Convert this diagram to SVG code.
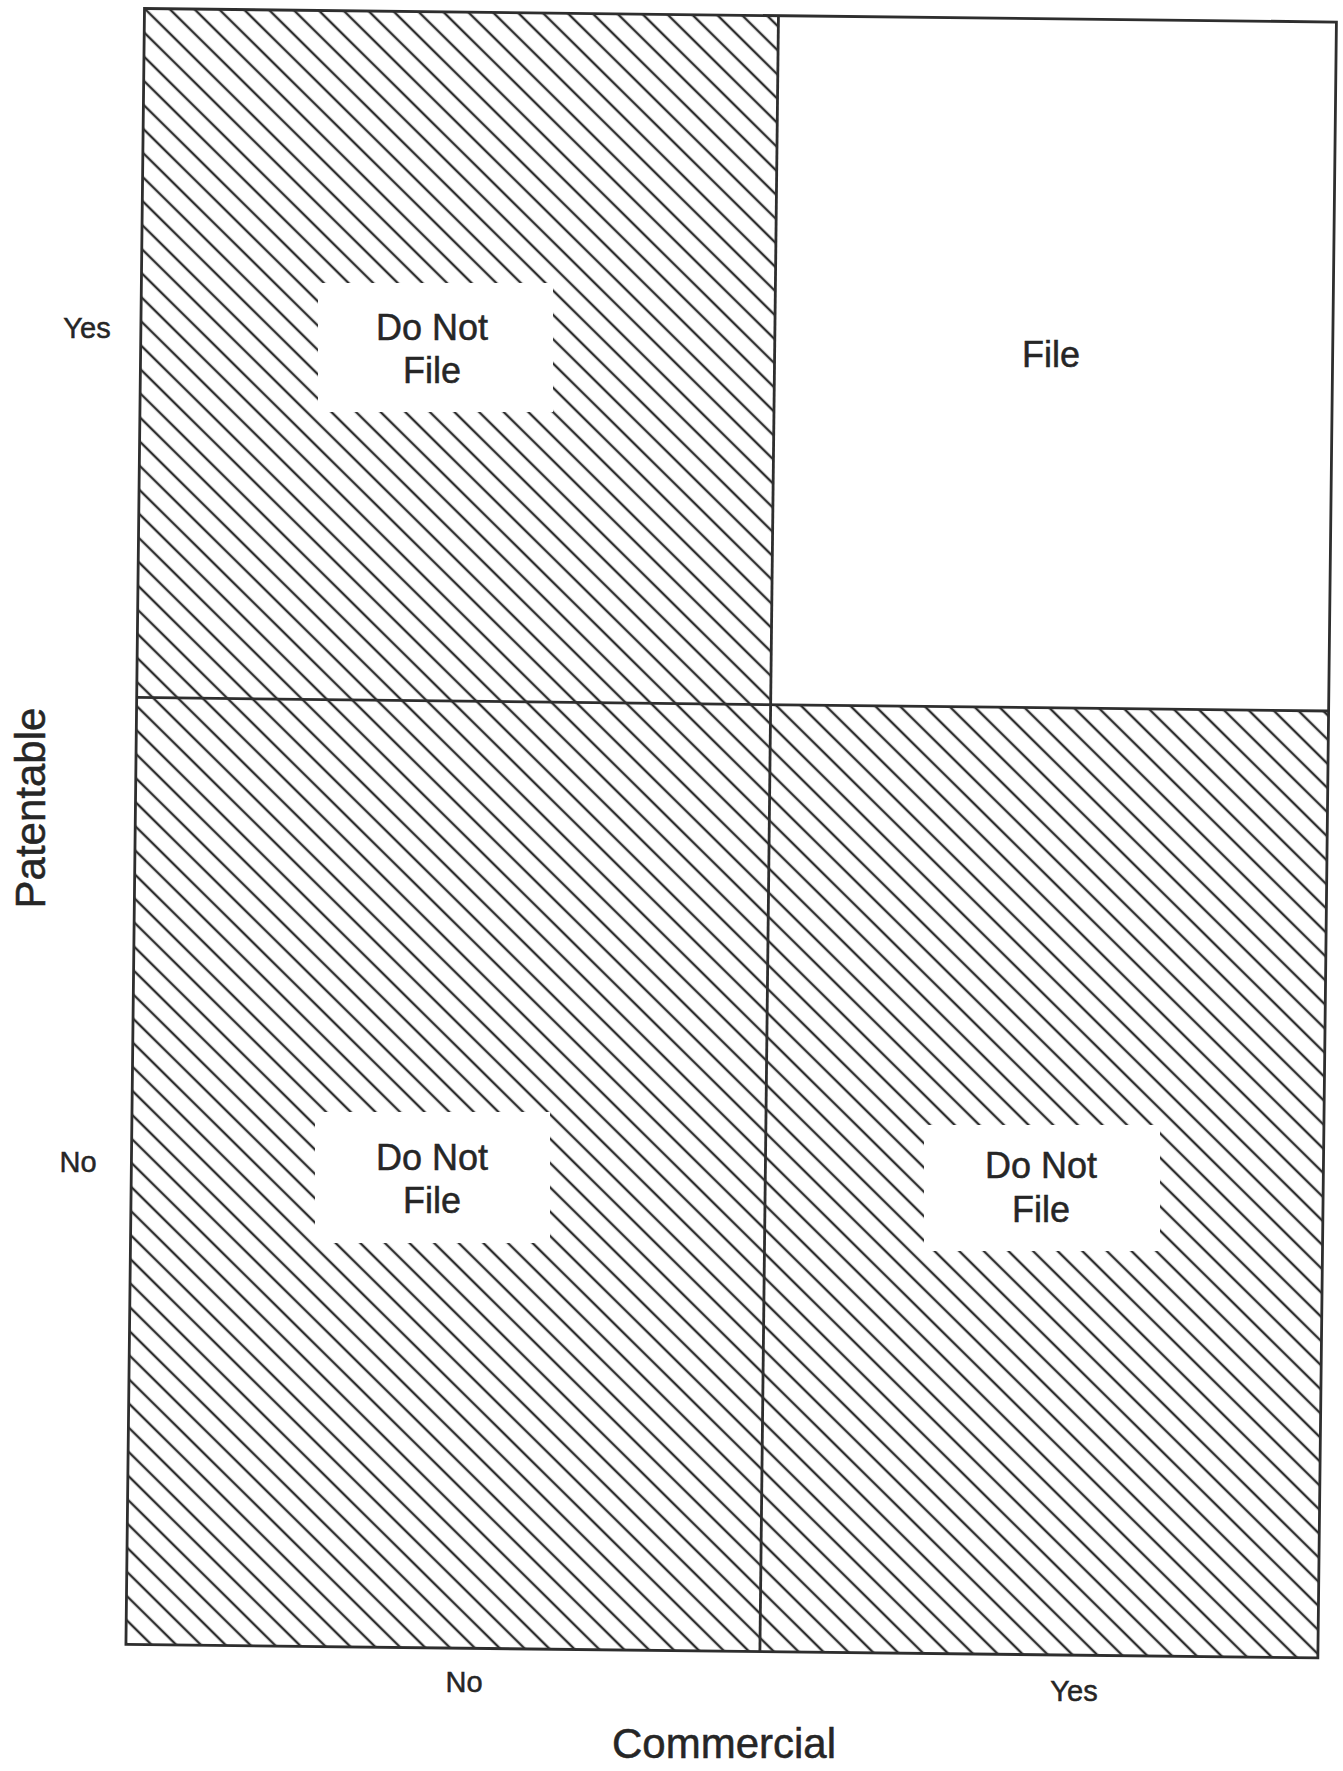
<svg xmlns="http://www.w3.org/2000/svg" width="1343" height="1771" viewBox="0 0 1343 1771">
<style>
.h{stroke:#2e2e2e;stroke-width:2.6}
.edge{fill:none;stroke:#2e2e2e;stroke-width:2.8}
.hatched{fill:url(#hatch)}
.clear{fill:#fff}
.lbl{font-family:"Liberation Sans",Arial,Helvetica,sans-serif;fill:#262626;stroke:#262626;stroke-width:0.5;text-anchor:middle}
.cell{font-size:36px}
.tick{font-size:29px}
.axis{font-size:42px}
</style>
<defs>
<pattern id="hatch" patternUnits="userSpaceOnUse" width="40" height="17.3" patternTransform="rotate(44)">
<line class="h" x1="0" y1="0" x2="40" y2="0"/>
<line class="h" x1="0" y1="17.3" x2="40" y2="17.3"/>
</pattern>
</defs>
<rect width="1343" height="1771" fill="#fff"/>
<g id="grid" transform="translate(144.5,8.5) rotate(0.65)">
<rect id="cell-tl-bg" class="hatched" x="0" y="0" width="634" height="689"/>
<rect id="cell-tr-bg" class="clear" x="634" y="0" width="558" height="689"/>
<rect id="cell-bl-bg" class="hatched" x="0" y="689" width="634" height="947"/>
<rect id="cell-br-bg" class="hatched" x="634" y="689" width="558" height="947"/>
<rect class="edge" x="0" y="0" width="1192" height="1636"/>
<line class="edge" x1="634" y1="0" x2="634" y2="1636"/>
<line class="edge" x1="0" y1="689" x2="1192" y2="689"/>
</g>
<g id="node-tl">
<rect class="clear" x="318" y="283" width="235" height="129"/>
<text class="lbl cell" x="432" y="340">Do Not</text>
<text class="lbl cell" x="432" y="383">File</text>
</g>
<g id="node-tr">
<text class="lbl cell" x="1051" y="367">File</text>
</g>
<g id="node-bl">
<rect class="clear" x="315" y="1112" width="235" height="131"/>
<text class="lbl cell" x="432" y="1170">Do Not</text>
<text class="lbl cell" x="432" y="1213">File</text>
</g>
<g id="node-br">
<rect class="clear" x="924" y="1125" width="236" height="126"/>
<text class="lbl cell" x="1041" y="1178">Do Not</text>
<text class="lbl cell" x="1041" y="1222">File</text>
</g>
<g id="axis-labels">
<text class="lbl tick" x="87" y="338">Yes</text>
<text class="lbl tick" x="78" y="1172">No</text>
<text class="lbl tick" x="464" y="1692">No</text>
<text class="lbl tick" x="1074" y="1701">Yes</text>
<text class="lbl axis" x="724" y="1758">Commercial</text>
<text class="lbl axis" transform="translate(45,808) rotate(-90)" x="0" y="0">Patentable</text>
</g>
<g id="connectors"/>
</svg>
